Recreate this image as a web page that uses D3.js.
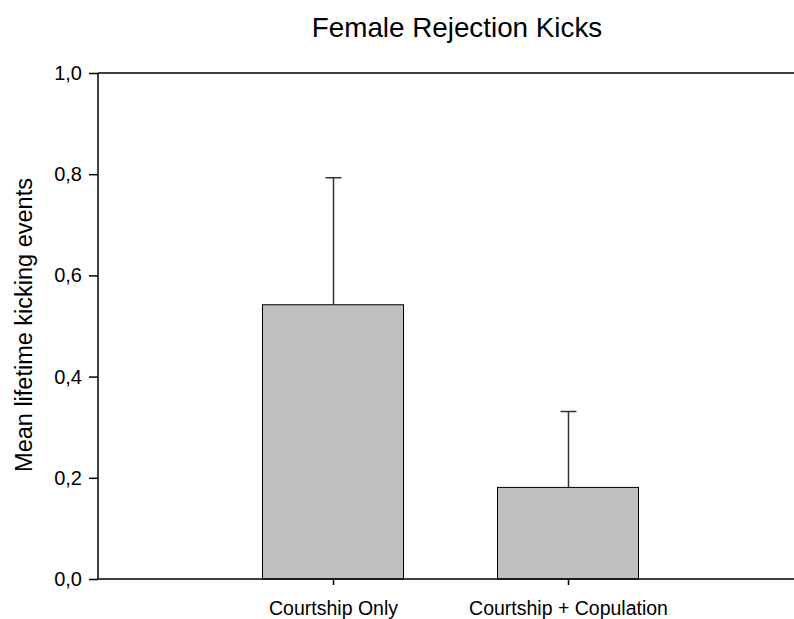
<!DOCTYPE html>
<html><head><meta charset="utf-8">
<script src="https://cdn.jsdelivr.net/npm/d3@7"></script>
<style>body{margin:0;background:#fff}text{font-family:"Liberation Sans",Arial,sans-serif}</style>
</head><body><svg id="c" width="794" height="619"></svg>
<script>
const categories = ["Courtship Only", "Courtship + Copulation"];
const means = [0.542, 0.181];
const errors = [0.251, 0.150];
const yTicks = [0, 0.2, 0.4, 0.6, 0.8, 1.0];

(function () {
const svg = d3.select("#c");
const pLeft = 98, pTop = 73, pBottom = 579, pRightEnd = 803;
const y = d3.scaleLinear().domain([0, 1]).range([pBottom, pTop]);
const x = d3.scalePoint().domain(["_a", ...categories, "_b"]).range([pLeft, pRightEnd]);
const bw = x.step() * 0.6;

// bars
svg.selectAll("rect.bar").data(categories).join("rect")
  .attr("x", d => x(d) - bw / 2).attr("y", (d, i) => y(means[i]))
  .attr("width", bw).attr("height", (d, i) => y(0) - y(means[i]))
  .attr("fill", "#c0c0c0").attr("stroke", "#000").attr("stroke-width", 1);

// error bars
categories.forEach((c, i) => {
  const cx = Math.round(x(c)) + 0.5;
  svg.append("line").attr("x1", cx).attr("x2", cx)
    .attr("y1", y(means[i])).attr("y2", y(means[i] + errors[i]))
    .attr("stroke", "#333").attr("stroke-width", 1.5);
  svg.append("line").attr("x1", cx - 8).attr("x2", cx + 8)
    .attr("y1", y(means[i] + errors[i])).attr("y2", y(means[i] + errors[i]))
    .attr("stroke", "#333").attr("stroke-width", 1.5);
});

// top line
svg.append("line").attr("x1", pLeft).attr("x2", 794).attr("y1", pTop).attr("y2", pTop)
  .attr("stroke", "#000").attr("stroke-width", 1.5);

// y axis
const ya = svg.append("g").attr("transform", `translate(${pLeft},0)`)
  .call(d3.axisLeft(y).tickValues(yTicks).tickSize(9).tickPadding(7)
    .tickFormat(d => d3.format(".1f")(d).replace(".", ",")));
ya.attr("font-size", null);
ya.select(".domain").attr("stroke-width", 1.5).attr("d", `M0,${pTop}V${pBottom}`);
ya.selectAll(".tick line").attr("stroke-width", 1.5);
ya.selectAll("text").style("font-size", "20px").attr("fill", "#000")
  .style("font-family", '"Liberation Sans",Arial,sans-serif');

// x axis
const xa = svg.append("g").attr("transform", `translate(0,${pBottom})`)
  .call(d3.axisBottom(x).tickValues(categories).tickSize(6).tickPadding(16));
xa.attr("font-size", null);
xa.select(".domain").attr("stroke-width", 1.5).attr("d", `M${pLeft},0H794`);
xa.selectAll(".tick line").attr("stroke-width", 1.5);
xa.selectAll("text").style("font-size", "19.5px").attr("fill", "#000")
  .style("font-family", '"Liberation Sans",Arial,sans-serif');

// title
svg.append("text").attr("x", 457).attr("y", 37).attr("text-anchor", "middle")
  .style("font-size", "27.8px").text("Female Rejection Kicks");

// y label
svg.append("text").attr("transform", `translate(32,325) rotate(-90)`)
  .attr("text-anchor", "middle").style("font-size", "23.5px").text("Mean lifetime kicking events");
})();
</script></body></html>
